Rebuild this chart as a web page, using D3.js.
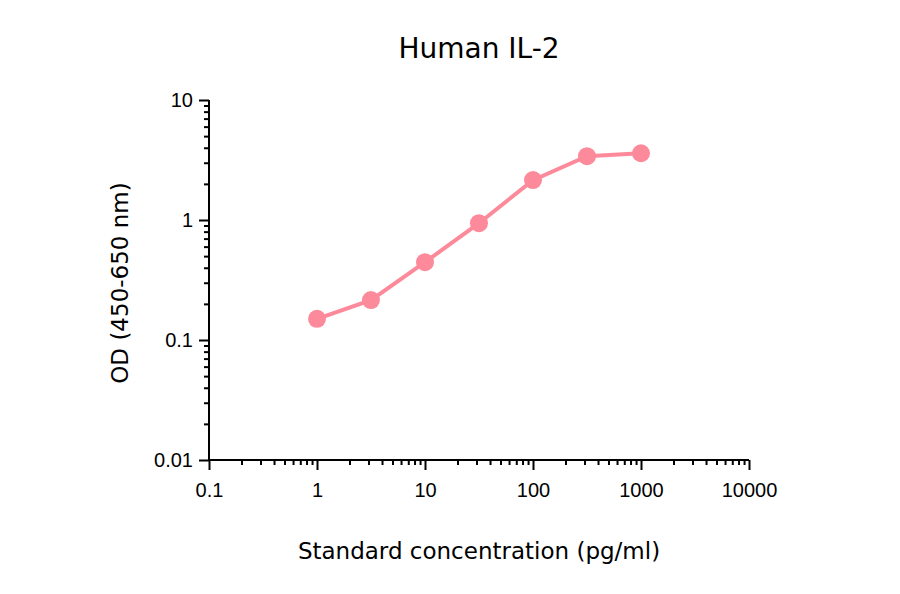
<!DOCTYPE html>
<html>
<head>
<meta charset="utf-8">
<script src="https://cdn.jsdelivr.net/npm/d3@7"></script>
<style>
  body { margin: 0; background: #fff; }
  svg { display: block; }
</style>
</head>
<body>
<script>
const width = 900;
const height = 594;

// standard curve values
const concentrations = [1, 3.16, 10, 31.6, 100, 316, 1000];
const odValues = [0.15, 0.215, 0.445, 0.94, 2.15, 3.4, 3.6];
const xTickValues = [0.1, 1, 10, 100, 1000, 10000];
const yTickValues = [0.01, 0.1, 1, 10];

const margin = { left: 209, right: 151, top: 100, bottom: 134 };

const svg = d3.select("body")
    .append("svg")
    .attr("width", width)
    .attr("height", height);

const x = d3.scaleLog()
    .domain([0.1, 10000])
    .range([margin.left, width - margin.right]);

const y = d3.scaleLog()
    .domain([0.01, 10])
    .range([height - margin.bottom, margin.top]);

// minor ticks (2..9 in every decade)
const minor = (lo, hi) => {
    const out = [];
    for (let p = Math.log10(lo); p < Math.log10(hi); p++) {
        for (let k = 2; k <= 9; k++) out.push(k * Math.pow(10, p));
    }
    return out;
};

const tickFont = "'Liberation Sans', Arial, sans-serif";
const tickSize = 20;

// x axis
const xAxisG = svg.append("g")
    .attr("transform", `translate(0,${y(0.01)})`);
xAxisG.call(d3.axisBottom(x).tickValues(minor(0.1, 10000)).tickSize(5).tickFormat(""));
xAxisG.append("g")
    .call(d3.axisBottom(x).tickValues(xTickValues).tickSize(10).tickPadding(13)
        .tickFormat(d3.format("~g")))
    .call(g => g.select(".domain").remove());
xAxisG.selectAll("path, line").attr("stroke", "#000").attr("stroke-width", 2);
xAxisG.select(".domain").attr("d", `M${x(0.1)},0H${x(10000)}`);
xAxisG.selectAll("text")
    .attr("font-family", tickFont)
    .attr("font-size", tickSize)
    .attr("fill", "#000");

// y axis
const yAxisG = svg.append("g")
    .attr("transform", `translate(${x(0.1)},0)`);
yAxisG.call(d3.axisLeft(y).tickValues(minor(0.01, 10)).tickSize(5).tickFormat(""));
yAxisG.append("g")
    .call(d3.axisLeft(y).tickValues(yTickValues).tickSize(10).tickPadding(6)
        .tickFormat(d3.format("~g")))
    .call(g => g.select(".domain").remove());
yAxisG.selectAll("path, line").attr("stroke", "#000").attr("stroke-width", 2);
yAxisG.select(".domain").attr("d", `M0,${y(0.01)}V${y(10)}`);
yAxisG.selectAll("text")
    .attr("font-family", tickFont)
    .attr("font-size", tickSize)
    .attr("fill", "#000");

// curve
const pink = "#fd8a9a";
const points = concentrations.map((c, i) => ({ c: c, od: odValues[i] }));

svg.append("path")
    .datum(points)
    .attr("fill", "none")
    .attr("stroke", pink)
    .attr("stroke-width", 4)
    .attr("d", d3.line().x(d => x(d.c)).y(d => y(d.od)));

svg.selectAll("circle.pt")
    .data(points)
    .enter()
    .append("circle")
    .attr("class", "pt")
    .attr("cx", d => x(d.c))
    .attr("cy", d => y(d.od))
    .attr("r", 9)
    .attr("fill", pink);

// titles
const labelFont = "'DejaVu Sans', Verdana, sans-serif";

svg.append("text")
    .attr("x", 479)
    .attr("y", 58)
    .attr("text-anchor", "middle")
    .attr("font-family", labelFont)
    .attr("font-size", 28)
    .text("Human IL-2");

svg.append("text")
    .attr("x", 479)
    .attr("y", 559)
    .attr("text-anchor", "middle")
    .attr("font-family", labelFont)
    .attr("font-size", 23)
    .text("Standard concentration (pg/ml)");

svg.append("text")
    .attr("transform", `translate(128,${(y(0.01) + y(10)) / 2 + 3}) rotate(-90)`)
    .attr("text-anchor", "middle")
    .attr("font-family", labelFont)
    .attr("font-size", 23)
    .text("OD (450-650 nm)");
</script>
</body>
</html>
